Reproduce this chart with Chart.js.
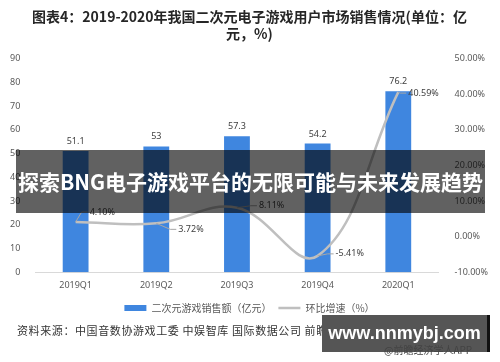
<!DOCTYPE html>
<html>
<head>
<meta charset="utf-8">
<script src="https://cdn.jsdelivr.net/npm/chart.js@4"></script>
<style>
    body { margin: 0; background: #fff; font-family: "Noto Sans CJK SC", sans-serif; }
    #wrap { position: relative; width: 500px; height: 362px; overflow: hidden; }
    #banner { position: absolute; left: 16px; top: 150px; width: 469px; height: 63px;
        background: rgba(0, 0, 0, 0.62); color: #fff; font-weight: bold; font-size: 21px;
        line-height: 63px; text-align: center; white-space: nowrap; }
    #source { position: absolute; left: 17px; top: 322px; font-size: 11px; letter-spacing: 0.6px; color: #333; white-space: nowrap; }
    #mark { position: absolute; left: 322px; top: 315px; width: 165px; height: 37px;
        background: #555; color: #fff; font-family: "Liberation Sans", Arial, sans-serif; font-weight: bold;
        font-size: 18px; line-height: 37px; text-align: center; border-right: 3px solid #111; }
    #app { position: absolute; left: 384px; top: 342px; font-size: 10px; color: #444; white-space: nowrap; }
</style>
</head>
<body>
<div id="wrap">
    <canvas id="salesChart" width="500" height="362"></canvas>
    <div id="banner">探索BNG电子游戏平台的无限可能与未来发展趋势</div>
    <div id="source">资料来源：中国音数协游戏工委 中娱智库 国际数据公司 前瞻产业研究院整理</div>
    <div id="mark">www.nnmybj.com</div>
    <div id="app">@前瞻经济学人APP</div>
</div>
<script>
const quarters = ['2019Q1', '2019Q2', '2019Q3', '2019Q4', '2020Q1'];
const sales = [51.1, 53, 57.3, 54.2, 76.2];
const growth = [4.10, 3.72, 8.11, -5.41, 40.59];
const leftTicks = [0, 10, 20, 30, 40, 50, 60, 70, 80, 90];
const rightTicks = [-10, 0, 10, 20, 30, 40, 50];

// offsets of the growth labels from their points
const growthLabelOffsets = [[14, -10], [22, 6], [22, -2], [18, -2], [10, 1]];

const labelPlugin = {
    id: 'valueLabels',
    afterDatasetsDraw(chart) {
        const c = chart.ctx;
        c.save();
        c.font = '9px "Noto Sans", sans-serif';
        c.fillStyle = '#404040';
        c.textAlign = 'center';
        c.textBaseline = 'bottom';
        chart.getDatasetMeta(0).data.forEach((bar, i) => {
            c.fillText(String(sales[i]), bar.x, bar.y - 5);
        });
        c.textAlign = 'left';
        c.textBaseline = 'middle';
        c.strokeStyle = '#a6a6a6';
        c.lineWidth = 1;
        chart.getDatasetMeta(1).data.forEach((pt, i) => {
            const [dx, dy] = growthLabelOffsets[i];
            const lx = pt.x + dx, ly = pt.y + dy;
            c.beginPath();
            c.moveTo(pt.x, pt.y);
            c.lineTo(lx - 8, ly);
            c.lineTo(lx - 2, ly);
            c.stroke();
            c.fillText(growth[i].toFixed(2) + '%', lx, ly);
        });
        c.restore();
    }
};

const ctx = document.getElementById('salesChart').getContext('2d');
const salesChart = new Chart(ctx, {
    type: 'bar',
    data: {
        labels: quarters,
        datasets: [
            {
                label: '二次元游戏销售额（亿元）',
                data: sales,
                backgroundColor: '#3f86df',
                pointStyle: 'rect',
                yAxisID: 'y',
                barPercentage: 0.64,
                categoryPercentage: 0.5,
                order: 2
            },
            {
                type: 'line',
                label: '环比增速（%）',
                data: growth,
                borderColor: '#bfbfbf',
                backgroundColor: '#bfbfbf',
                borderWidth: 2.5,
                pointRadius: 0,
                pointStyle: 'line',
                tension: 0.4,
                yAxisID: 'y1',
                order: 1
            }
        ]
    },
    plugins: [labelPlugin],
    options: {
        responsive: false,
        animation: false,
        layout: { padding: { left: 3, right: 4, top: 6, bottom: 39 } },
        plugins: {
            title: {
                display: true,
                text: ['图表4：2019-2020年我国二次元电子游戏用户市场销售情况(单位：亿', '元，%)'],
                color: '#262626',
                font: { size: 14, weight: 'bold', family: '"Noto Sans CJK SC", sans-serif', lineHeight: 1.2 },
                padding: { top: 2, bottom: 17 }
            },
            legend: {
                position: 'bottom',
                labels: {
                    usePointStyle: true,
                    pointStyleWidth: 22,
                    boxHeight: 6,
                    padding: 7,
                    color: '#595959',
                    font: { size: 10, family: '"Noto Sans CJK SC", sans-serif' },
                    sort: (a, b) => a.datasetIndex - b.datasetIndex
                }
            },
            tooltip: { enabled: false }
        },
        scales: {
            x: {
                grid: { display: false },
                border: { color: '#d9d9d9' },
                afterFit: axis => { axis.height += 5; },
                ticks: { color: '#595959', padding: 0, font: { size: 9, family: '"Noto Sans", sans-serif' } }
            },
            y: {
                min: 0,
                max: 90,
                afterBuildTicks: axis => { axis.ticks = leftTicks.map(v => ({ value: v })); },
                grid: { display: false },
                border: { display: false },
                ticks: { color: '#595959', padding: 7, font: { size: 9, family: '"Noto Sans", sans-serif' } }
            },
            y1: {
                position: 'right',
                min: -10,
                max: 50,
                afterBuildTicks: axis => { axis.ticks = rightTicks.map(v => ({ value: v })); },
                grid: { display: false },
                border: { display: false },
                ticks: {
                    color: '#595959',
                    padding: 8,
                    font: { size: 9, family: '"Noto Sans", sans-serif' },
                    callback: v => v.toFixed(2) + '%'
                }
            }
        }
    }
});
</script>
</body>
</html>
